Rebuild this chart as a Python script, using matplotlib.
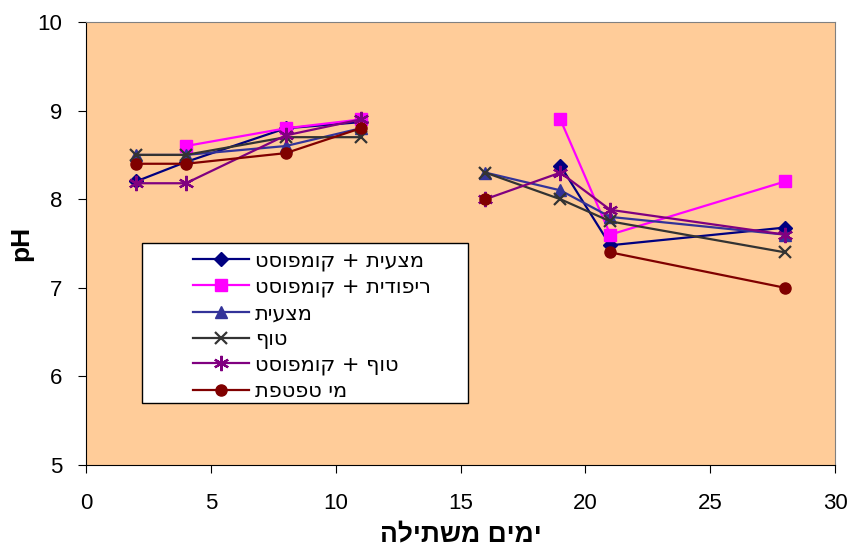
import numpy as np
import matplotlib.pyplot as plt
from matplotlib.patches import Rectangle

plt.rcParams['font.family'] = ['Liberation Sans', 'DejaVu Sans']


def rtl(s):
    # matplotlib has no bidi support: reverse Hebrew strings for display
    return s[::-1]


nan = np.nan
days = [2, 4, 8, 11, 13, 16, 19, 21, 28]

labels = ['מצעית + קומפוסט', 'ריפודית + קומפוסט', 'מצעית', 'טוף', 'טוף + קומפוסט', 'מי טפטפת']
ph_mazait_komp = [8.2, 8.42, 8.8, 8.87, nan, nan, 8.38, 7.48, 7.68]
ph_ripudit_komp = [nan, 8.6, 8.8, 8.9, nan, nan, 8.9, 7.6, 8.2]
ph_mazait = [8.5, 8.5, 8.6, 8.8, nan, 8.3, 8.1, 7.8, 7.6]
ph_tuf = [8.5, 8.5, 8.7, 8.7, nan, 8.3, 8.0, 7.75, 7.4]
ph_tuf_komp = [8.18, 8.18, 8.72, 8.9, nan, 8.0, 8.3, 7.88, 7.6]
ph_tiftuf = [8.4, 8.4, 8.52, 8.8, nan, 8.0, nan, 7.4, 7.0]

series = [ph_mazait_komp, ph_ripudit_komp, ph_mazait, ph_tuf, ph_tuf_komp, ph_tiftuf]
colors = ['#000080', '#FF00FF', '#333399', '#333333', '#800080', '#800000']
markers = ['D', 's', '^', 'x', (6, 2, 0), 'o']
msizes = [7, 8, 9, 9, 11, 8]

fig = plt.figure(figsize=(8.47, 5.47), dpi=100)
ax = fig.add_axes([86 / 847, 82 / 547, 749 / 847, 443 / 547])
ax.set_facecolor('#FFCC99')

handles = []
for y, c, m, ms, lab in zip(series, colors, markers, msizes, labels):
    y = np.array(y, dtype=float)
    h, = ax.plot(days, y, color=c, lw=1.6, marker=m, ms=ms,
                 mec=c, mew=1.6 if m in ('x', (6, 2, 0)) else 1, label=rtl(lab))
    handles.append(h)

ax.set_xlim(0, 30)
ax.set_ylim(5, 10)
ax.set_xticks(range(0, 31, 5))
ax.set_yticks(range(5, 11))
ax.tick_params(labelsize=16, length=6, color='#000000')
ax.tick_params(axis='x', pad=14)
ax.tick_params(axis='y', pad=11)
for s in ax.spines.values():
    s.set_color('#808080')
ax.spines['left'].set_color('#000000')
ax.spines['bottom'].set_color('#000000')

ax.set_xlabel(rtl('ימים משתילה'), fontsize=19, fontweight='bold', labelpad=6)
ax.set_ylabel('pH', fontsize=19, fontweight='bold', labelpad=3)

# legend box (wider than its content, as in the original)
box = Rectangle((142 / 847, 1 - 403 / 547), 326 / 847, 160 / 547,
                transform=fig.transFigure, facecolor='white',
                edgecolor='#000000', lw=1, zorder=5, clip_on=False)
ax.add_artist(box)
leg = ax.legend(handles=handles, loc='upper left', frameon=False,
                bbox_to_anchor=(183 / 847, 1 - 240 / 547), bbox_transform=fig.transFigure,
                prop={'family': 'DejaVu Sans', 'size': 15}, handlelength=2.65,
                labelspacing=0.28, handletextpad=0.3, borderpad=0)
leg.set_zorder(6)

plt.savefig('out.png', dpi=100)
